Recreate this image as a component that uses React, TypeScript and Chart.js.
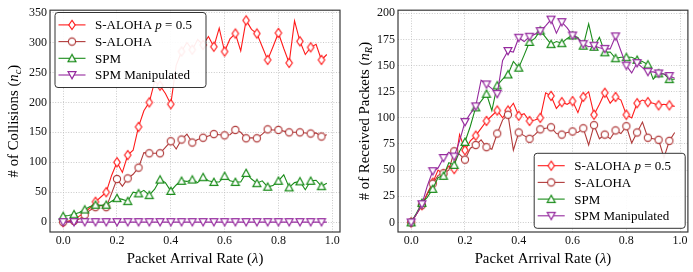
import { useEffect, useRef } from "react";
import { Chart, registerables } from "chart.js";
Chart.register(...registerables);

const FONT = '"Liberation Serif", "DejaVu Serif", serif';

const lambdaValues = [
  0.0, 0.02, 0.04, 0.06, 0.08, 0.1, 0.12, 0.14, 0.16, 0.18,
  0.2, 0.22, 0.24, 0.26, 0.28, 0.3, 0.32, 0.34, 0.36, 0.38,
  0.4, 0.42, 0.44, 0.46, 0.48, 0.5, 0.52, 0.54, 0.56, 0.58,
  0.6, 0.62, 0.64, 0.66, 0.68, 0.7, 0.72, 0.74, 0.76, 0.78,
  0.8, 0.82, 0.84, 0.86, 0.88, 0.9, 0.92, 0.94, 0.96, 0.98,
];
const xTicks = [0.0, 0.2, 0.4, 0.6, 0.8, 1.0];
const collisionTicks = [0, 50, 100, 150, 200, 250, 300, 350];
const receivedTicks = [0, 25, 50, 75, 100, 125, 150, 175, 200];
const seriesNames = ["S-ALOHA p = 0.5", "S-ALOHA", "SPM", "SPM Manipulated"];
const seriesColors = ["#ff1a1a", "#b03a3a", "#1a8c1a", "#952a9e"];

// Left: # of collisions
const collisionsSAlohaP05 = [
  0, 2, 4, 10, 16, 24, 34, 42, 50, 78,
  100, 83, 112, 120, 159, 186, 200, 235, 228, 215,
  197, 262, 285, 300, 288, 305, 296, 310, 293, 324,
  285, 306, 315, 286, 337, 322, 315, 293, 271, 293,
  316, 290, 266, 336, 302, 280, 292, 297, 271, 280,
];
const collisionsSAloha = [
  0, 1, 2, 5, 12, 20, 25, 28, 25, 48,
  72, 60, 73, 80, 91, 116, 115, 115, 115, 125,
  135, 122, 138, 147, 133, 138, 141, 144, 147, 146,
  145, 146, 154, 150, 140, 141, 140, 147, 155, 154,
  154, 152, 150, 150, 150, 149, 148, 149, 143, 146,
];
const collisionsSPM = [
  10, 11, 13, 16, 21, 26, 29, 28, 29, 35,
  40, 38, 35, 50, 48, 53, 45, 55, 71, 66,
  52, 62, 69, 68, 71, 66, 75, 69, 67, 67,
  77, 69, 67, 67, 82, 72, 65, 69, 59, 61,
  69, 79, 58, 66, 68, 54, 69, 70, 60, 65,
];
const collisionsSPMManipulated = [
  0, 0, 0, 0, 0, 0, 0, 0, 0, 0,
  0, 0, 0, 0, 0, 0, 0, 0, 0, 0,
  0, 0, 0, 0, 0, 0, 0, 0, 0, 0,
  0, 0, 0, 0, 0, 0, 0, 0, 0, 0,
  0, 0, 0, 0, 0, 0, 0, 0, 0, 0,
];

// Right: # of received packets
const receivedSAlohaP05 = [
  0, 8, 16.5, 28, 38, 50, 46, 54, 51, 84,
  69, 78, 83, 90, 97, 102, 107, 100, 107, 114,
  102, 104, 97, 98, 100, 124, 121, 109, 115, 113,
  116, 105, 120, 125, 103, 113, 124, 114, 120, 117,
  103, 100, 114, 117, 115, 114, 112, 113, 112, 111,
];
const receivedSAloha = [
  0, 8, 16.5, 27, 37, 45, 47, 50, 68, 65,
  60, 71, 74, 79, 72, 70, 85, 98, 103, 69,
  86, 83, 80, 84, 89, 90, 91, 85, 84, 86,
  87, 86, 90, 74, 93, 80, 84, 80, 88, 85,
  92, 76, 86, 96, 81, 80, 79, 62, 78, 86,
];
const receivedSPM = [
  0, 9, 18.7, 24, 32, 43, 44.5, 57, 55, 68,
  77, 92, 110, 116, 123, 107, 131, 137, 141.5, 154,
  148, 160, 172.6, 176, 183.5, 177, 170.5, 173, 171.4, 176,
  178.8, 177, 169, 190, 168, 177, 162.7, 163, 157, 158,
  158, 158, 155.5, 154, 151, 137, 142.5, 142, 137, 137,
];
const receivedSPMManipulated = [
  0, 8, 17.4, 35, 49, 52, 61.6, 67, 63, 78,
  96, 104, 111, 136, 132, 128, 123, 155, 164, 163,
  176.7, 173, 177.6, 180, 183, 188, 194, 181, 191.6, 186,
  178.8, 176, 170.5, 168, 169, 167, 166, 166, 178, 164,
  150, 143, 152.4, 148, 144, 144, 142.5, 142, 140, 138,
];

type Part = { text: string; italic?: boolean; sub?: boolean };

const legendParts: Part[][] = [
  [{ text: "S-ALOHA " }, { text: "p", italic: true }, { text: " = 0.5" }],
  [{ text: seriesNames[1] }],
  [{ text: seriesNames[2] }],
  [{ text: seriesNames[3] }],
];
const xTitleParts: Part[] = [
  { text: "Packet Arrival Rate (" },
  { text: "λ", italic: true },
  { text: ")" },
];
const leftYTitleParts: Part[] = [
  { text: "# of Collisions (" },
  { text: "n", italic: true },
  { text: "c", italic: true, sub: true },
  { text: ")" },
];
const rightYTitleParts: Part[] = [
  { text: "# of Received Packets (" },
  { text: "n", italic: true },
  { text: "R", italic: true, sub: true },
  { text: ")" },
];

function partFont(p: Part, size: number) {
  const s = p.sub ? size * 0.7 : size;
  return `${p.italic ? "italic " : ""}${s}px ${FONT}`;
}
function measureParts(ctx: CanvasRenderingContext2D, parts: Part[], size: number) {
  let w = 0;
  for (const p of parts) {
    ctx.font = partFont(p, size);
    w += ctx.measureText(p.text).width;
  }
  return w;
}
function drawParts(ctx: CanvasRenderingContext2D, parts: Part[], x: number, y: number, size: number) {
  let cx = x;
  ctx.textAlign = "left";
  ctx.textBaseline = "alphabetic";
  for (const p of parts) {
    ctx.font = partFont(p, size);
    ctx.fillText(p.text, cx, y + (p.sub ? size * 0.22 : 0));
    cx += ctx.measureText(p.text).width;
  }
}

function makeMarker(shape: string, color: string): HTMLCanvasElement {
  const c = document.createElement("canvas");
  c.width = 14;
  c.height = 14;
  const g = c.getContext("2d")!;
  const m = 7;
  g.beginPath();
  if (shape === "diamond") {
    g.moveTo(m, m - 4.6);
    g.lineTo(m + 3.2, m);
    g.lineTo(m, m + 4.6);
    g.lineTo(m - 3.2, m);
    g.closePath();
  } else if (shape === "circle") {
    g.arc(m, m, 3.6, 0, Math.PI * 2);
  } else if (shape === "up") {
    g.moveTo(m, m - 3.9);
    g.lineTo(m + 4.0, m + 3.4);
    g.lineTo(m - 4.0, m + 3.4);
    g.closePath();
  } else {
    g.moveTo(m, m + 3.9);
    g.lineTo(m + 4.0, m - 3.4);
    g.lineTo(m - 4.0, m - 3.4);
    g.closePath();
  }
  g.fillStyle = "#ffffff";
  g.fill();
  g.lineWidth = 1.15;
  g.strokeStyle = color;
  g.stroke();
  return c;
}

type PanelCfg = {
  series: number[][];
  yMin: number;
  yMax: number;
  yTicks: number[];
  yAxisWidth: number;
  padding: { top: number; right: number; left: number; bottom: number };
  legendAt: "topleft" | "bottomright";
  yTitle: Part[];
  yTitleX: number;
};

function makeChart(canvas: HTMLCanvasElement, cfg: PanelCfg, markers: HTMLCanvasElement[]) {
  const decor = {
    id: "decor",
    afterDatasetsDraw(chart: any) {
      const ctx: CanvasRenderingContext2D = chart.ctx;
      const a = chart.chartArea;
      ctx.save();
      ctx.strokeStyle = "#3a3a3a";
      ctx.lineWidth = 1.2;
      ctx.strokeRect(a.left, a.top, a.right - a.left, a.bottom - a.top);

      // legend
      const bw = 151;
      const bh = 75;
      let bx: number, by: number;
      if (cfg.legendAt === "topleft") {
        bx = a.left + 5;
        by = a.top + 2.3;
      } else {
        bx = a.right - 2.7 - bw;
        by = a.bottom - 3.7 - bh;
      }
      const r = 3;
      ctx.beginPath();
      ctx.moveTo(bx + r, by);
      ctx.lineTo(bx + bw - r, by);
      ctx.arcTo(bx + bw, by, bx + bw, by + r, r);
      ctx.lineTo(bx + bw, by + bh - r);
      ctx.arcTo(bx + bw, by + bh, bx + bw - r, by + bh, r);
      ctx.lineTo(bx + r, by + bh);
      ctx.arcTo(bx, by + bh, bx, by + bh - r, r);
      ctx.lineTo(bx, by + r);
      ctx.arcTo(bx, by, bx + r, by, r);
      ctx.closePath();
      ctx.fillStyle = "rgba(255,255,255,0.92)";
      ctx.fill();
      ctx.strokeStyle = "#333333";
      ctx.lineWidth = 1;
      ctx.stroke();
      for (let k = 0; k < 4; k++) {
        const ry = by + 12.4 + k * 16.7;
        ctx.beginPath();
        ctx.moveTo(bx + 3.5, ry);
        ctx.lineTo(bx + 30.5, ry);
        ctx.strokeStyle = seriesColors[k];
        ctx.lineWidth = 1.1;
        ctx.stroke();
        const mk = markers[k];
        ctx.drawImage(mk, bx + 17 - mk.width / 2, ry - mk.height / 2);
        ctx.fillStyle = "#000";
        drawParts(ctx, legendParts[k], bx + 40, ry + 4.4, 13);
      }
      ctx.restore();
    },
    afterDraw(chart: any) {
      const ctx: CanvasRenderingContext2D = chart.ctx;
      const a = chart.chartArea;
      ctx.save();
      ctx.fillStyle = "#000";
      const size = 14.8;
      const wx = measureParts(ctx, xTitleParts, size);
      drawParts(ctx, xTitleParts, (a.left + a.right) / 2 - wx / 2, 262.5, size);
      const wy = measureParts(ctx, cfg.yTitle, size);
      ctx.translate(cfg.yTitleX, (a.top + a.bottom) / 2);
      ctx.rotate(-Math.PI / 2);
      drawParts(ctx, cfg.yTitle, -wy / 2, 0, size);
      ctx.restore();
    },
  };

  const gridColor = "#bdbdbd";
  return new Chart(canvas, {
    type: "line",
    data: {
      datasets: cfg.series.map((s, k) => ({
        label: seriesNames[k],
        data: lambdaValues.map((x, i) => ({ x, y: s[i] })),
        borderColor: seriesColors[k],
        backgroundColor: "#ffffff",
        borderWidth: 1.1,
        pointStyle: markers[k] as any,
        pointRadius: (c: any) => (c.dataIndex % 2 === 0 ? 4 : 0),
        pointHoverRadius: 0,
        tension: 0,
        fill: false,
        order: 4 - k,
      })),
    },
    options: {
      responsive: false,
      animation: false,
      events: [],
      devicePixelRatio: 1,
      layout: { padding: cfg.padding },
      plugins: { legend: { display: false }, tooltip: { enabled: false } },
      scales: {
        x: {
          type: "linear",
          min: -0.049,
          max: 1.029,
          afterBuildTicks: (s: any) => {
            s.ticks = xTicks.map((v) => ({ value: v }));
          },
          afterFit: (s: any) => {
            s.height = 40;
          },
          ticks: {
            callback: (v: any) => Number(v).toFixed(1),
            font: { size: 12, family: FONT },
            color: "#111",
            padding: 2,
            maxRotation: 0,
            autoSkip: false,
          },
          grid: { color: gridColor, lineWidth: 0.8, drawTicks: false },
          border: { display: false, dash: [1, 1.6] },
        },
        y: {
          type: "linear",
          min: cfg.yMin,
          max: cfg.yMax,
          afterBuildTicks: (s: any) => {
            s.ticks = cfg.yTicks.map((v) => ({ value: v }));
          },
          afterFit: (s: any) => {
            s.width = cfg.yAxisWidth;
          },
          ticks: {
            callback: (v: any) => String(v),
            font: { size: 12, family: FONT },
            color: "#111",
            padding: 3,
            autoSkip: false,
          },
          grid: { color: gridColor, lineWidth: 0.8, drawTicks: false },
          border: { display: false, dash: [1, 1.6] },
        },
      },
    },
    plugins: [decor],
  } as any);
}

export default function App() {
  const leftRef = useRef<HTMLCanvasElement>(null);
  const rightRef = useRef<HTMLCanvasElement>(null);

  useEffect(() => {
    document.body.style.margin = "0";
    const shapes = ["diamond", "circle", "up", "down"];
    const markers = shapes.map((s, k) => makeMarker(s, seriesColors[k]));
    const left = makeChart(
      leftRef.current!,
      {
        series: [collisionsSAlohaP05, collisionsSAloha, collisionsSPM, collisionsSPMManipulated],
        yMin: -16.5,
        yMax: 354,
        yTicks: collisionTicks,
        yAxisWidth: 50,
        padding: { top: 6, right: 6, left: 0, bottom: 0 },
        legendAt: "topleft",
        yTitle: leftYTitleParts,
        yTitleX: 18,
      },
      markers
    );
    const right = makeChart(
      rightRef.current!,
      {
        series: [receivedSAlohaP05, receivedSAloha, receivedSPM, receivedSPMManipulated],
        yMin: -9.2,
        yMax: 203,
        yTicks: receivedTicks,
        yAxisWidth: 52,
        padding: { top: 5, right: 5, left: 0, bottom: 0 },
        legendAt: "bottomright",
        yTitle: rightYTitleParts,
        yTitleX: 23,
      },
      markers
    );
    return () => {
      left.destroy();
      right.destroy();
    };
  }, []);

  return (
    <div style={{ position: "relative", width: 693, height: 272, background: "#fff" }}>
      <canvas ref={leftRef} width={346} height={272} style={{ position: "absolute", left: 0, top: 0 }} />
      <canvas ref={rightRef} width={347} height={272} style={{ position: "absolute", left: 346, top: 0 }} />
    </div>
  );
}
